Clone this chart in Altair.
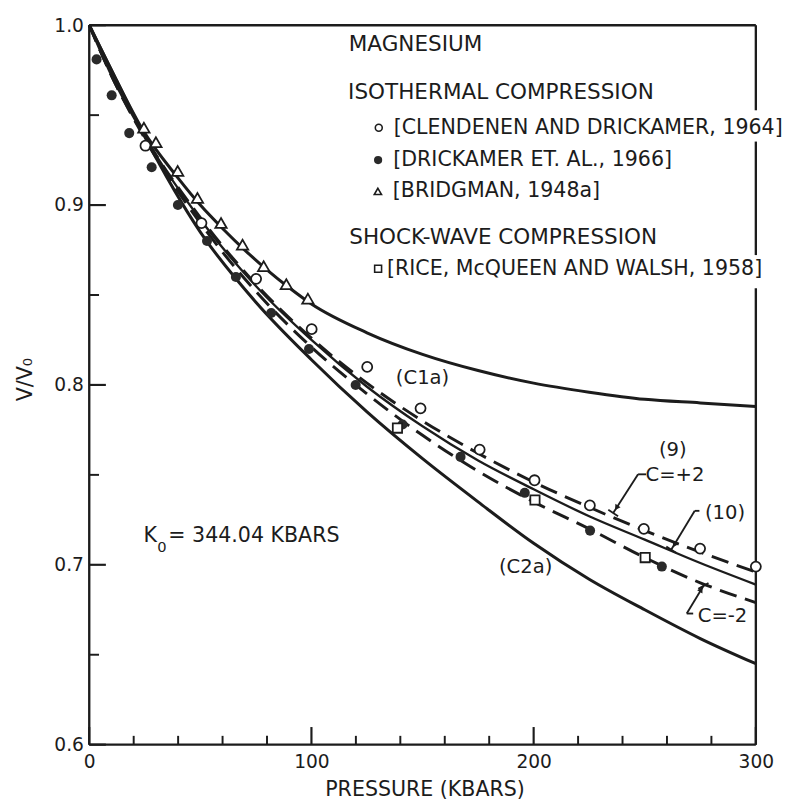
import altair as alt
import pandas as pd

# ---------------- data ----------------
# theoretical curves (pressure in kbar, V/V0)
c1a_p = [0, 12, 24, 40, 50, 60, 70, 80, 90, 100, 125, 150, 175, 200, 225, 250, 275, 300]
c1a_v = [1.000, 0.970, 0.942, 0.915, 0.900, 0.887, 0.875, 0.864, 0.854, 0.845, 0.829,
         0.817, 0.808, 0.801, 0.796, 0.792, 0.790, 0.788]

bundle_p = [0, 10, 25, 50, 75, 100, 125, 150, 175, 200, 225, 250, 275, 300]
eq10_v = [1.000, 0.972, 0.938, 0.892, 0.855, 0.825, 0.799, 0.777, 0.758, 0.742, 0.727, 0.714, 0.701, 0.689]
cplus2_v = [1.000, 0.972, 0.938, 0.893, 0.856, 0.826, 0.801, 0.780, 0.762, 0.746, 0.732, 0.719, 0.707, 0.696]
cminus2_v = [1.000, 0.972, 0.937, 0.890, 0.852, 0.821, 0.795, 0.772, 0.752, 0.735, 0.720, 0.704, 0.690, 0.679]

c2a_p = [0, 12, 25, 50, 75, 100, 125, 150, 175, 200, 225, 250, 275, 300]
c2a_v = [1.000, 0.970, 0.938, 0.885, 0.846, 0.814, 0.785, 0.759, 0.735, 0.712, 0.692, 0.675, 0.659, 0.645]

# experimental points
clen_p = [25.3, 50.5, 75.1, 100.1, 125.1, 149.1, 175.7, 200.4, 225.3, 249.6, 274.9, 300.0]
clen_v = [0.933, 0.890, 0.859, 0.831, 0.810, 0.787, 0.764, 0.747, 0.733, 0.720, 0.709, 0.699]
drick_p = [3.3, 10.1, 18.0, 28.1, 39.9, 53.0, 66.0, 81.9, 98.9, 119.9, 141.0, 167.1, 196.0, 225.4, 257.7]
drick_v = [0.981, 0.961, 0.940, 0.921, 0.900, 0.880, 0.860, 0.840, 0.820, 0.800, 0.778, 0.760,
           0.740, 0.719, 0.699]
bridg_p = [24.6, 30.0, 39.8, 48.7, 59.3, 69.0, 78.5, 88.7, 98.4]
bridg_v = [0.943, 0.935, 0.919, 0.904, 0.890, 0.878, 0.866, 0.856, 0.848]
rice_p = [138.7, 200.6, 250.2]
rice_v = [0.776, 0.736, 0.704]

# axis ticks
x_major = [0, 100, 200, 300]
x_minor = [20, 40, 60, 80, 120, 140, 160, 180, 220, 240, 260, 280]
y_major = [0.6, 0.7, 0.8, 0.9, 1.0]
y_minor = [0.65, 0.75, 0.85, 0.95]

# text labels
left_texts = ["MAGNESIUM", "ISOTHERMAL COMPRESSION", "[CLENDENEN AND DRICKAMER, 1964]",
              "[DRICKAMER ET. AL., 1966]", "[BRIDGMAN, 1948a]", "SHOCK-WAVE COMPRESSION",
              "[RICE, McQUEEN AND WALSH, 1958]", "K", "0", "= 344.04 KBARS"]
left_p = [116.8, 116.5, 137.0, 136.8, 136.6, 117.0, 134.0, 24.4, 30.6, 35.6]
left_v = [0.9894, 0.9628, 0.9429, 0.9249, 0.9075, 0.8822, 0.8645, 0.7161, 0.7096, 0.7161]
left_s = [22, 22, 21, 21, 21, 22, 21, 21, 15, 21]

curve_labels = ["(C1a)", "(C2a)", "(9)", "C=+2", "(10)", "C=-2"]
curve_lab_p = [150.0, 196.4, 262.6, 263.6, 286.1, 285.0]
curve_lab_v = [0.8039, 0.6986, 0.7638, 0.7501, 0.7287, 0.6716]

# legend symbol positions
leg_shapes = ["open", "filled", "triangle", "square"]
leg_p = [130.3, 130.0, 129.9, 130.0]
leg_v = [0.9430, 0.9250, 0.9076, 0.8646]

# leader lines (segments), bars at the tips, and arrow heads
lead_p0 = [250.6, 247.0, 274.6, 272.5, 271.8, 268.9, 233.6, 259.7, 274.1]
lead_v0 = [0.7503, 0.7503, 0.7300, 0.7300, 0.6729, 0.6729, 0.7306, 0.7101, 0.6866]
lead_p1 = [247.0, 235.8, 272.5, 261.9, 268.9, 276.4, 238.0, 264.1, 278.7]
lead_v1 = [0.7503, 0.7288, 0.7300, 0.7084, 0.6729, 0.6882, 0.7270, 0.7067, 0.6898]
arrow_p = [237.3, 263.3, 275.4]
arrow_v = [0.7317, 0.7110, 0.6862]
arrow_a = [212.6, 211.3, 31.2]

# frame (right side broken where the legend text crosses it)
frame_p0 = [0, 0, 0, 300, 300, 300]
frame_v0 = [0.6, 0.6, 1.0, 1.0, 0.9353, 0.8537]
frame_p1 = [0, 300, 300, 300, 300, 300]
frame_v1 = [1.0, 0.6, 1.0, 0.9527, 0.8722, 0.6]

# ---------------- chart ----------------
FONT = "DejaVu Sans"
INK = "#1c1c1c"
W, H = 681, 735

xs = alt.Scale(domain=[0, 300], nice=False, zero=False)
ys = alt.Scale(domain=[0.6, 1.0], nice=False, zero=False)
xaxis = alt.Axis(values=x_major, ticks=False, domain=False, grid=False, labelFont=FONT,
                 labelFontSize=19, labelColor=INK, labelPadding=8, title=None, labelFlush=False)
yaxis = alt.Axis(values=y_major, format=".1f", ticks=False, domain=False, grid=False,
                 labelFont=FONT, labelFontSize=19, labelColor=INK, labelPadding=6, title=None)


def X(f):
    return alt.X(f"{f}:Q", scale=xs, axis=xaxis)


def Y(f):
    return alt.Y(f"{f}:Q", scale=ys, axis=yaxis)


def curve_df(name, p, v):
    return pd.DataFrame({"p": p, "v": v, "curve": name})


thick_df = pd.concat([curve_df("C1a", c1a_p, c1a_v), curve_df("C2a", c2a_p, c2a_v)])
eq10_df = curve_df("10", bundle_p, eq10_v)
dash_df = pd.concat([curve_df("C=+2", bundle_p, cplus2_v), curve_df("C=-2", bundle_p, cminus2_v)])

thick = alt.Chart(thick_df).mark_line(strokeWidth=3.1, color=INK, interpolate="monotone").encode(
    x=X("p"), y=Y("v"), detail="curve:N")
eq10 = alt.Chart(eq10_df).mark_line(strokeWidth=2.4, color=INK, interpolate="monotone").encode(
    x=X("p"), y=Y("v"), detail="curve:N")
dashed = alt.Chart(dash_df).mark_line(strokeWidth=3.0, color=INK, strokeDash=[18, 9],
                                      interpolate="monotone").encode(
    x=X("p"), y=Y("v"), detail="curve:N")

frame_df = pd.DataFrame({"p0": frame_p0, "v0": frame_v0, "p1": frame_p1, "v1": frame_v1})
frame = alt.Chart(frame_df).mark_rule(strokeWidth=2.4, color=INK).encode(
    x=X("p0"), y=Y("v0"), x2=alt.X2("p1:Q"), y2=alt.Y2("v1:Q"))

xmaj = alt.Chart(pd.DataFrame({"t": x_major})).mark_rule(strokeWidth=2.2, color=INK).encode(
    x=X("t"), y=alt.value(H), y2=alt.value(H - 18))
xmin = alt.Chart(pd.DataFrame({"t": x_minor})).mark_rule(strokeWidth=2.0, color=INK).encode(
    x=X("t"), y=alt.value(H), y2=alt.value(H - 9))
ymaj = alt.Chart(pd.DataFrame({"t": y_major})).mark_rule(strokeWidth=2.2, color=INK).encode(
    y=Y("t"), x=alt.value(0), x2=alt.value(17))
ymin = alt.Chart(pd.DataFrame({"t": y_minor})).mark_rule(strokeWidth=2.0, color=INK).encode(
    y=Y("t"), x=alt.value(0), x2=alt.value(10))

open_c = alt.Chart(pd.DataFrame({"p": clen_p, "v": clen_v})).mark_point(
    shape="circle", size=105, filled=True, fill="white", stroke=INK, strokeWidth=1.8, opacity=1).encode(
    x=X("p"), y=Y("v"))
fill_c = alt.Chart(pd.DataFrame({"p": drick_p, "v": drick_v})).mark_point(
    shape="circle", size=105, filled=True, color="#2a2a2a", opacity=1).encode(x=X("p"), y=Y("v"))
tri = alt.Chart(pd.DataFrame({"p": bridg_p, "v": bridg_v})).mark_point(
    shape="triangle-up", size=135, filled=True, fill="white", stroke=INK, strokeWidth=1.8, opacity=1).encode(
    x=X("p"), y=Y("v"))
sq = alt.Chart(pd.DataFrame({"p": rice_p, "v": rice_v})).mark_point(
    shape="square", size=90, filled=True, fill="white", stroke=INK, strokeWidth=1.8, opacity=1).encode(
    x=X("p"), y=Y("v"))

leg = pd.DataFrame({"shape": leg_shapes, "p": leg_p, "v": leg_v})
leg_open = alt.Chart(leg[leg["shape"] == "open"]).mark_point(
    shape="circle", size=50, filled=True, fill="white", stroke=INK, strokeWidth=1.6, opacity=1).encode(
    x=X("p"), y=Y("v"))
leg_fill = alt.Chart(leg[leg["shape"] == "filled"]).mark_point(
    shape="circle", size=70, filled=True, color="#2a2a2a", opacity=1).encode(x=X("p"), y=Y("v"))
leg_tri = alt.Chart(leg[leg["shape"] == "triangle"]).mark_point(
    shape="triangle-up", size=55, filled=True, fill="white", stroke=INK, strokeWidth=1.6, opacity=1).encode(
    x=X("p"), y=Y("v"))
leg_sq = alt.Chart(leg[leg["shape"] == "square"]).mark_point(
    shape="square", size=50, filled=True, fill="white", stroke=INK, strokeWidth=1.6, opacity=1).encode(
    x=X("p"), y=Y("v"))

ltext = alt.Chart(pd.DataFrame({"t": left_texts, "p": left_p, "v": left_v, "s": left_s})).mark_text(
    align="left", baseline="middle", font=FONT, color=INK).encode(
    x=X("p"), y=Y("v"), text="t:N", size=alt.Size("s:Q", scale=None))
ctext = alt.Chart(pd.DataFrame({"t": curve_labels, "p": curve_lab_p, "v": curve_lab_v})).mark_text(
    align="center", baseline="middle", font=FONT, fontSize=20, color=INK).encode(
    x=X("p"), y=Y("v"), text="t:N")

leaders = alt.Chart(pd.DataFrame({"p0": lead_p0, "v0": lead_v0, "p1": lead_p1, "v1": lead_v1})).mark_rule(
    strokeWidth=1.9, color=INK).encode(x=X("p0"), y=Y("v0"), x2=alt.X2("p1:Q"), y2=alt.Y2("v1:Q"))
arrows = alt.Chart(pd.DataFrame({"p": arrow_p, "v": arrow_v, "a": arrow_a})).mark_point(
    shape="triangle-up", size=40, filled=True, color=INK, opacity=1).encode(
    x=X("p"), y=Y("v"), angle=alt.Angle("a:Q", scale=None))

xtitle = alt.Chart(pd.DataFrame({"t": ["PRESSURE (KBARS)"]})).mark_text(
    align="center", baseline="middle", font=FONT, fontSize=21, color=INK).encode(
    text="t:N", x=alt.value(343), y=alt.value(781))
ytitle = alt.Chart(pd.DataFrame({"t": ["V/V\u2080"]})).mark_text(
    align="center", baseline="middle", font=FONT, fontSize=21, color=INK, angle=270).encode(
    text="t:N", x=alt.value(-64), y=alt.value(362))

chart = alt.layer(
    thick, eq10, dashed, frame, xmaj, xmin, ymaj, ymin,
    leaders, arrows,
    open_c, fill_c, tri, sq,
    leg_open, leg_fill, leg_tri, leg_sq,
    ltext, ctext, xtitle, ytitle,
).properties(
    width=W, height=H,
    padding={"left": 83, "top": 9, "right": 40, "bottom": 50},
    autosize=alt.AutoSizeParams(type="none"),
    background="white",
).configure_view(stroke=None)

chart.save("out.html", embed_options={"renderer": "svg", "actions": False})
